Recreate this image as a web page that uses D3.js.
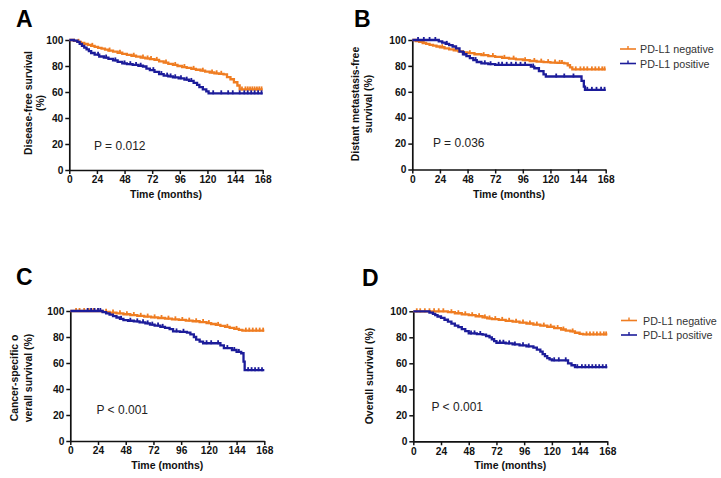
<!DOCTYPE html>
<html><head><meta charset="utf-8">
<script src="https://cdn.jsdelivr.net/npm/d3@7"></script>
<style>body{margin:0;background:#fff}svg{display:block}</style>
</head><body>
<svg id="chart" width="721" height="478"></svg>
<script>
// ---------- data ----------
const xTicks = [0, 24, 48, 72, 96, 120, 144, 168];
const yTicks = [0, 20, 40, 60, 80, 100];
const seriesNames = ["PD-L1 negative", "PD-L1 positive"];
const followUpEnd = 168;

// A: Disease-free survival
const aNegTime = [0,4,7,10,13,16,19,22,25,28,31,34,38,42,46,50,54,58,62,66,70,74,78,82,86,90,94,98,102,106,110,114,118,122,126,130,134,137,140,143,146,148];
const aNegSurv = [100,99.4,98.6,97.8,97,96.3,95.5,94.7,94,93.3,92.6,91.9,91.1,90.2,89.4,88.6,87.9,87.2,86.5,85.8,85.3,84.7,83.6,82.6,81.6,80.8,80,79.2,78.5,77.8,77.1,76.4,75.6,75,74.4,74,73.6,71.5,69.8,67.5,65,62];
const aNegCens = [8,20,35,44,56,64,68,71,76,84,92,100,108,116,124,128,132,150,153,155,157,159,161,163,165,167];
const aPosTime = [0,4,7,9,11,13,15,17,19,22,26,30,34,38,42,46,50,55,60,64,67,70,74,78,82,86,90,95,100,104,108,111,113,116,119,121];
const aPosSurv = [100,99.5,98.5,97,95.5,94.2,92.8,91.5,90,88.7,87.3,86.5,85.5,84.3,83.1,82,81.4,80.8,80.2,79.6,78,76.8,75.5,73.8,72.6,72,71.3,70.5,69.5,68.5,67,65.5,63.8,62,60.5,59];
const aPosCens = [25,32,40,48,53,58,62,73,80,85,88,92,97,102,106,125,132,138,142,148,152,155,158,161,164,167];

// B: Distant metastasis-free survival
const bNegTime = [0,3,6,9,12,15,18,21,24,28,32,36,40,44,48,54,60,66,72,78,84,90,96,102,108,114,120,126,132,135,137,139];
const bNegSurv = [100,99.2,98.5,97.7,97,96.3,95.6,95,94.4,93.6,92.8,92,91.2,90.4,89.8,89,88.3,87.6,86.9,86.2,85.6,85,84.4,83.8,83.3,82.9,82.6,82.3,82,80.5,78.8,77.3];
const bNegCens = [10,26,38,50,62,70,80,88,98,106,112,118,124,128,130,142,146,149,152,156,159,162,165,167];
const bPosTime = [0,23,26,29,32,35,38,41,44,47,50,53,56,60,66,72,103,106,110,114,116,147,149,150];
const bPosSurv = [100,99,98,97,96,95,93.5,91,89,87.5,86,84.5,83,82,81.3,80.8,79.5,78.2,76,73.5,71.8,68.5,64,61.5];
const bPosCens = [5,10,15,20,30,45,55,63,68,75,78,82,86,90,94,98,105,125,132,140,152,156,160,164,167];

// C: Cancer-specific overall survival
const cNegTime = [0,28,34,40,46,52,58,64,70,76,82,88,94,100,106,112,118,122,126,130,134,138,142,146,149];
const cNegSurv = [100,99.4,98.8,98.2,97.5,96.9,96.3,95.7,95.1,94.6,94.1,93.6,93.1,92.6,92.1,91.5,90.7,90,89.3,88.5,87.8,87,86.2,85.5,84.9];
const cNegCens = [5,8,12,16,20,24,31,37,43,49,55,61,67,73,79,85,91,97,103,109,115,120,128,136,144,152,155,158,161,164,167];
const cPosTime = [0,28,31,34,37,40,43,46,50,55,60,65,69,73,78,82,86,89,95,101,104,107,109,112,115,130,133,140,144,148,150,151];
const cPosSurv = [100,99.2,98.2,97.2,96,95,94,93,92.5,92,91.3,90.5,89.5,88.8,87.8,87,86,84.3,84,83.3,82,80,78,76.5,75.2,73.5,71.5,70,68.5,67.5,61,54.5];
const cPosCens = [15,18,21,24,26,44,52,58,63,67,71,76,80,92,98,118,122,128,136,142,146,154,157,160,163,166];

// D: Overall survival
const dNegTime = [0,30,36,42,48,54,60,64,68,74,80,86,92,98,104,110,116,122,128,132,136,140,144,147];
const dNegSurv = [100,99.3,98.5,97.7,97,96.2,95.3,94.5,94,93.4,92.7,92,91.3,90.6,89.8,89,88.1,87.1,86,85.2,84.5,83.5,82.7,82.2];
const dNegCens = [3,6,10,14,18,22,26,33,39,45,51,57,62,66,71,77,83,89,95,101,107,113,119,125,130,138,150,153,156,159,162,165,167];
const dPosTime = [0,14,17,19,21,24,27,30,33,36,39,42,45,48,55,60,63,66,68,70,72,80,86,92,98,104,107,110,112,114,116,118,120,134,137,140];
const dPosSurv = [100,99,98,97,96,95,93.5,92,90.5,89,87.8,86.3,84.8,83,82.5,82,81,80,78.5,77,75.8,75.3,74.5,73.8,73,72,70.5,69,67,65.5,64,63,62.3,60,58.5,57];
const dPosCens = [50,53,58,75,78,83,88,95,100,122,126,132,142,146,149,152,155,158,161,164,167];

const pLabels = ["P = 0.012", "P = 0.036", "P < 0.001", "P < 0.001"];
const panelLetters = ["A", "B", "C", "D"];
const yTitles = [["Disease-free survival", "(%)"], ["Distant metastasis-free", "survival (%)"], ["Cancer-specific o", "verall survival (%)"], ["Overall survival (%)"]];
const xTitle = "Time (months)";

// ---------- layout ----------
const colors = ["#ef7d22", "#1c1c9a"];
const FONT = "'Liberation Sans', Arial, Helvetica, sans-serif";
const panels = [
  {x0:69.3, x1:262.7, yTop:40, yBot:170, letter:[16,27], yT:[[28.5],[40.5]], yTc:103, p:[94,150], legend:false,
   series:[[aNegTime,aNegSurv,aNegCens],[aPosTime,aPosSurv,aPosCens]]},
  {x0:412.3, x1:605.7, yTop:40, yBot:169.5, letter:[354,27], yT:[[355],[368.5]], yTc:104, p:[433,147], legend:{x:620, y:49, tx:640},
   series:[[bNegTime,bNegSurv,bNegCens],[bPosTime,bPosSurv,bPosCens]]},
  {x0:70.3, x1:264.3, yTop:311, yBot:441, letter:[16,285], yT:[[14.5],[28]], yTc:378, p:[96.5,414], legend:false,
   series:[[cNegTime,cNegSurv,cNegCens],[cPosTime,cPosSurv,cPosCens]]},
  {x0:413.3, x1:607.3, yTop:311.3, yBot:441.3, letter:[362,286], yT:[[369]], yTc:376, p:[431.5,411], legend:{x:621, y:320.5, tx:643},
   series:[[dNegTime,dNegSurv,dNegCens],[dPosTime,dPosSurv,dPosCens]]}
];

const svg = d3.select("#chart");

panels.forEach((P, i) => {
  const x = d3.scaleLinear().domain([0, 168]).range([P.x0, P.x1]);
  const y = d3.scaleLinear().domain([0, 100]).range([P.yBot, P.yTop]);
  const g = svg.append("g");

  g.append("text").attr("x", P.letter[0]).attr("y", P.letter[1])
    .attr("font-family", FONT).attr("font-weight", "bold").attr("font-size", 23)
    .text(panelLetters[i]);

  const yAxis = d3.axisLeft(y).tickValues(yTicks).tickSize(4).tickPadding(2).tickSizeOuter(0);
  const xAxis = d3.axisBottom(x).tickValues(xTicks).tickSize(4).tickPadding(2).tickSizeOuter(0);
  const ya = g.append("g").attr("transform", `translate(${P.x0},0)`).call(yAxis);
  const xa = g.append("g").attr("transform", `translate(0,${P.yBot})`).call(xAxis);
  [ya, xa].forEach(a => {
    a.select(".domain").attr("stroke", "#111").attr("stroke-width", 1.7);
    a.selectAll(".tick line").attr("stroke", "#111").attr("stroke-width", 1.5);
    a.selectAll(".tick text").attr("font-family", FONT).attr("font-weight", "bold")
      .attr("font-size", 10.2).attr("fill", "#111");
  });

  g.append("text").attr("x", (P.x0 + P.x1) / 2).attr("y", P.yBot + 28)
    .attr("text-anchor", "middle").attr("font-family", FONT).attr("font-weight", "bold")
    .attr("font-size", 10.5).attr("fill", "#111").text(xTitle);

  yTitles[i].forEach((line, k) => {
    g.append("text")
      .attr("transform", `translate(${P.yT[k][0]},${P.yTc}) rotate(-90)`)
      .attr("text-anchor", "middle").attr("dy", "0.35em")
      .attr("font-family", FONT).attr("font-weight", "bold").attr("font-size", 10.4)
      .attr("fill", "#111").text(line);
  });

  P.series.forEach((s, si) => {
    const [times, surv, cens] = s;
    const pts = times.map((t, k) => [t, surv[k]]);
    pts.push([followUpEnd, surv[surv.length - 1]]);
    const line = d3.line().x(d => x(d[0])).y(d => y(d[1])).curve(d3.curveStepAfter);
    g.append("path").datum(pts).attr("d", line).attr("fill", "none")
      .attr("stroke", colors[si]).attr("stroke-width", 2.3);
    const survAt = t => { let v = surv[0]; for (let k = 0; k < times.length; k++) if (times[k] <= t) v = surv[k]; return v; };
    g.selectAll(null).data(cens).enter().append("line")
      .attr("x1", d => x(d)).attr("x2", d => x(d))
      .attr("y1", d => y(survAt(d)) - 3).attr("y2", d => y(survAt(d)) + 1)
      .attr("stroke", colors[si]).attr("stroke-width", 1.8);
  });

  g.append("text").attr("x", P.p[0]).attr("y", P.p[1])
    .attr("font-family", FONT).attr("font-size", 12).attr("fill", "#222").text(pLabels[i]);

  if (P.legend) {
    seriesNames.forEach((name, si) => {
      const ly = P.legend.y + si * 14.5;
      g.append("line").attr("x1", P.legend.x).attr("x2", P.legend.x + 16)
        .attr("y1", ly).attr("y2", ly).attr("stroke", colors[si]).attr("stroke-width", 1.6);
      g.append("line").attr("x1", P.legend.x + 8).attr("x2", P.legend.x + 8)
        .attr("y1", ly - 3).attr("y2", ly).attr("stroke", colors[si]).attr("stroke-width", 1.4);
      g.append("text").attr("x", P.legend.tx).attr("y", ly + 4)
        .attr("font-family", FONT).attr("font-size", 10.7).attr("fill", "#333").text(name);
    });
  }
});
</script>
</body></html>
